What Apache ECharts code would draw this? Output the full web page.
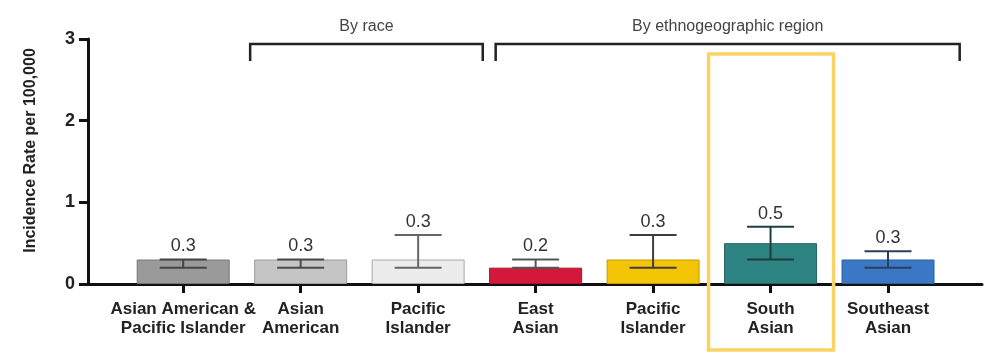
<!DOCTYPE html>
<html>
<head>
<meta charset="utf-8">
<script src="https://cdn.jsdelivr.net/npm/echarts@6/dist/echarts.min.js"></script>
<style>
  html, body { margin: 0; padding: 0; background: #fff; }
  #chart { width: 987px; height: 353px; }
</style>
</head>
<body>
<div id="chart"></div>
<script>
// Incidence rate per 100,000 with confidence intervals
const categories = [
  'Asian American &\nPacific Islander',
  'Asian\nAmerican',
  'Pacific\nIslander',
  'East\nAsian',
  'Pacific\nIslander',
  'South\nAsian',
  'Southeast\nAsian'
];
const rates = [0.3, 0.3, 0.3, 0.2, 0.3, 0.5, 0.3];
const ciLow = [0.2, 0.2, 0.2, 0.2, 0.2, 0.3, 0.2];
const ciHigh = [0.3, 0.3, 0.6, 0.3, 0.6, 0.7, 0.4];
const yTicks = [0, 1, 2, 3];

const groupLabels = ['By race', 'By ethnogeographic region'];
const highlightIndex = 5;

// styling
const barFills = ['#9a9a9a', '#c5c5c5', '#ececec', '#d3183b', '#f4c506', '#2e8483', '#3a78c6'];
const barEdges = ['#767676', '#9c9c9c', '#a8a8a8', '#a8122d', '#c49c04', '#236564', '#2c5e9e'];
const whiskerColors = ['#454545', '#4a4a4a', '#666666', '#555555', '#3d3d3d', '#1f3f3e', '#2a3f5a'];
const FONT = '"Liberation Sans", Arial, sans-serif';

const idx = categories.map((c, i) => i);

const chart = echarts.init(document.getElementById('chart'), null, { renderer: 'canvas' });

const option = {
  backgroundColor: '#ffffff',
  animation: false,
  grid: { left: 88, right: 5, top: 39, bottom: 69 },
  xAxis: {
    type: 'value',
    min: -0.8104,
    max: 6.80,
    splitLine: { show: false },
    axisLine: { show: true, onZero: false, lineStyle: { color: '#111', width: 3 } },
    axisTick: { show: true, customValues: idx, length: 9, lineStyle: { color: '#111', width: 3 } },
    axisLabel: {
      customValues: idx,
      formatter: v => categories[Math.round(v)],
      margin: 16,
      fontFamily: FONT,
      fontWeight: 'bold',
      fontSize: 17,
      lineHeight: 19,
      color: '#222',
      align: 'center'
    }
  },
  yAxis: {
    type: 'value',
    min: 0,
    max: 3,
    interval: 1,
    splitLine: { show: false },
    axisLine: { show: true, onZero: false, lineStyle: { color: '#111', width: 3 } },
    axisTick: { show: true, length: 9, lineStyle: { color: '#111', width: 3 } },
    axisLabel: {
      margin: 13,
      fontFamily: FONT,
      fontWeight: 'bold',
      fontSize: 18,
      color: '#222',
      formatter: v => (yTicks.indexOf(v) >= 0 ? String(v) : '')
    },
    name: 'Incidence Rate per 100,000',
    nameLocation: 'middle',
    nameGap: 49,
    nameTextStyle: {
      fontFamily: FONT,
      fontWeight: 'bold',
      fontSize: 16,
      color: '#222',
      padding: [0, 0, 0, 22]
    }
  },
  series: [
    {
      type: 'bar',
      barWidth: 93,
      data: rates.map((r, i) => ({
        value: [i, r],
        itemStyle: { color: barFills[i], borderColor: barEdges[i], borderWidth: 1 }
      })),
      z: 2
    },
    {
      type: 'custom',
      data: rates.map((r, i) => [i, ciLow[i], ciHigh[i], r]),
      encode: { x: 0, y: [1, 2] },
      z: 5,
      renderItem: function (params, api) {
        const i = params.dataIndex;
        const x = api.value(0);
        const lo = api.coord([x, api.value(1)]);
        const hi = api.coord([x, api.value(2)]);
        const half = 23.5;
        const style = { stroke: whiskerColors[i], lineWidth: 2 };
        return {
          type: 'group',
          children: [
            { type: 'line', shape: { x1: lo[0], y1: lo[1], x2: hi[0], y2: hi[1] }, style: style },
            { type: 'line', shape: { x1: hi[0] - half, y1: hi[1], x2: hi[0] + half, y2: hi[1] }, style: style },
            { type: 'line', shape: { x1: lo[0] - half, y1: lo[1], x2: lo[0] + half, y2: lo[1] }, style: style },
            {
              type: 'text',
              x: hi[0],
              y: hi[1] - 13,
              style: {
                text: api.value(3).toFixed(1),
                fontFamily: FONT,
                fontSize: 18,
                fill: '#333',
                align: 'center',
                verticalAlign: 'middle'
              }
            }
          ]
        };
      }
    }
  ]
};

chart.setOption(option);

// group brackets and the highlight frame around South Asian
const px = v => chart.convertToPixel({ xAxisIndex: 0 }, v);
const bracketTop = 44, bracketDrop = 61;
function bracket(x1, x2, label) {
  return [
    {
      type: 'polyline',
      shape: { points: [[x1, bracketDrop], [x1, bracketTop], [x2, bracketTop], [x2, bracketDrop]] },
      style: { stroke: '#222', lineWidth: 2.5, fill: null },
      z: 10
    },
    {
      type: 'text',
      x: (x1 + x2) / 2,
      y: 27,
      style: {
        text: label,
        fontFamily: FONT,
        fontSize: 16,
        fill: '#444',
        align: 'center',
        verticalAlign: 'middle'
      },
      z: 10
    }
  ];
}
const hx = px(highlightIndex);
chart.setOption({
  graphic: [
    ...bracket(px(0.57), px(2.55), groupLabels[0]),
    ...bracket(px(2.66), px(6.61), groupLabels[1]),
    {
      type: 'rect',
      shape: { x: hx - 62, y: 54, width: 125, height: 296 },
      style: { stroke: '#f8d466', lineWidth: 3.5, fill: null },
      z: 10
    }
  ]
});
</script>
</body>
</html>
